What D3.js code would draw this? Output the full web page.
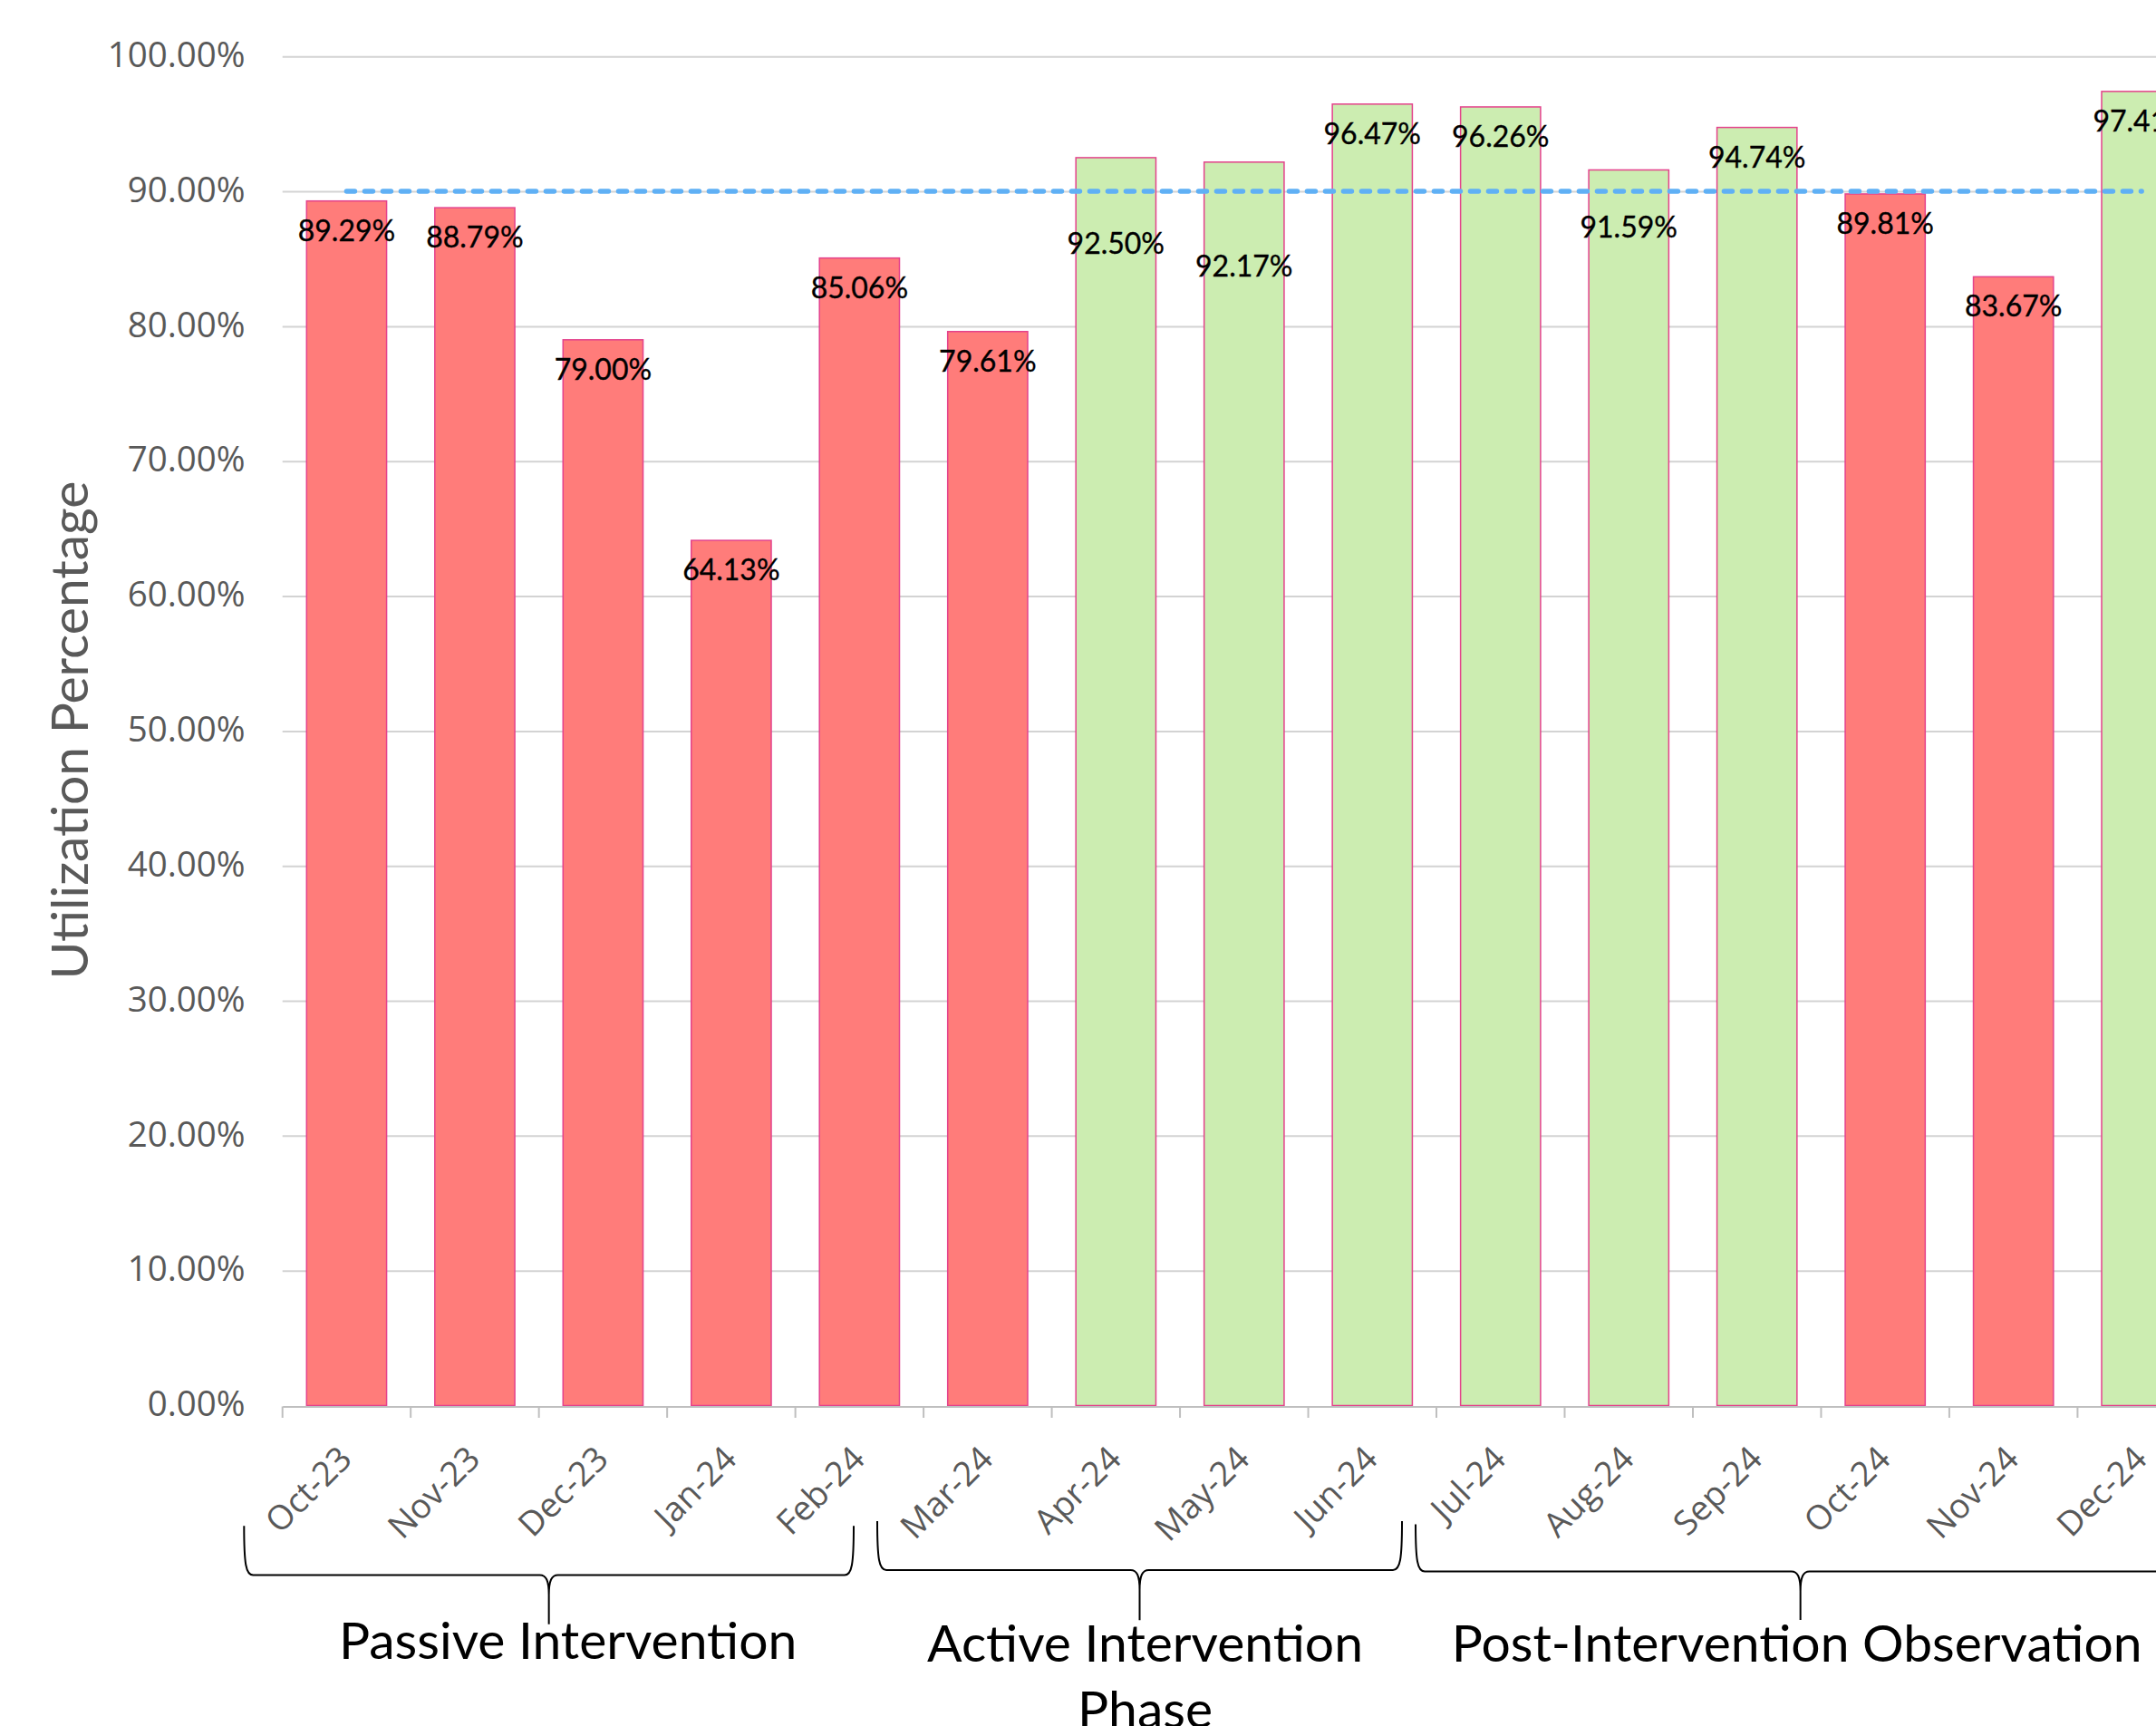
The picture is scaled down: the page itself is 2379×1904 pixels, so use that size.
<!DOCTYPE html>
<html>
<head>
<meta charset="utf-8">
<script src="https://cdn.jsdelivr.net/npm/d3@7"></script>
<style>
  html, body { margin: 0; padding: 0; background: #ffffff; }
  svg { display: block; }
</style>
</head>
<body>
<svg id="chart" width="2379" height="1904"></svg>
<script>
// ---- data ----
const months = ["Oct-23", "Nov-23", "Dec-23", "Jan-24", "Feb-24", "Mar-24", "Apr-24",
                "May-24", "Jun-24", "Jul-24", "Aug-24", "Sep-24", "Oct-24", "Nov-24", "Dec-24"];
const utilization = [0.8929, 0.8879, 0.7900, 0.6413, 0.8506, 0.7961, 0.9250,
                     0.9217, 0.9647, 0.9626, 0.9159, 0.9474, 0.8981, 0.8367, 0.9741];
const target = 0.90;
const yTicks = [0, 0.1, 0.2, 0.3, 0.4, 0.5, 0.6, 0.7, 0.8, 0.9, 1.0];
const phaseNames = ["Passive Intervention", "Active Intervention Phase", "Post-Intervention Observation"];
const phaseFirst = ["Oct-23", "Mar-24", "Jul-24"];
const phaseLast  = ["Feb-24", "Jun-24", "Dec-24"];

// ---- layout ----
const W = 2379, H = 1904;
const plotLeft = 311.7, step = 141.48;
const yTop = 62.3, yBottom = 1550.5;
const barRatio = 0.624;

const colors = {
  below: "#FF7C7A",
  above: "#CCEDB1",
  barEdge: "#E4428C",
  target: "#5FB0F5",
  grid: "#D3D3D3",
  axis: "#BFBFBF",
  axisText: "#595959",
  text: "#000000"
};

// extra downward shift for a few value labels so they clear the target line
const labelShift = { "Apr-24": 62, "May-24": 82, "Aug-24": 31 };

// brace geometry per phase (offsets from the phase's band edges, vertical levels)
const braceLayout = [
  { dx0: -42.4, dx1: -77.1, top: 1683.3, mid: 1737.5, tip: 1791.7, textDx: 21,  baseline: 1829.5, wrap: 700 },
  { dx0: -51.1, dx1: -38.0, top: 1678.0, mid: 1732.0, tip: 1787.3, textDx: 6,   baseline: 1833,   wrap: 520 },
  { dx0: -23.0, dx1: -22.6, top: 1681.5, mid: 1733.5, tip: 1787.0, textDx: -4,  baseline: 1833,   wrap: 900 }
];

const svg = d3.select("#chart");

const x = d3.scaleBand()
  .domain(months)
  .range([plotLeft, plotLeft + step * months.length])
  .paddingInner(0)
  .paddingOuter(0);
const bw = x.bandwidth();
const barW = bw * barRatio;

const y = d3.scaleLinear().domain([0, 1]).range([yBottom, yTop]);

// ---- y axis with gridlines ----
const gy = svg.append("g")
  .attr("transform", `translate(${plotLeft},0)`)
  .call(d3.axisLeft(y)
    .tickValues(yTicks)
    .tickFormat(d3.format(".2%"))
    .tickSize(-(W - plotLeft))
    .tickPadding(41));
gy.select(".domain").remove();
gy.selectAll(".tick line")
  .attr("stroke", colors.grid)
  .attr("stroke-width", 2)
  .attr("opacity", d => d === 0 ? 0 : 1);
gy.selectAll(".tick text")
  .attr("fill", colors.axisText)
  .attr("font-family", "'Open Sans', sans-serif")
  .attr("font-size", 38.5)
  .attr("dy", "0.29em");

// axis title
svg.append("text")
  .attr("transform", `translate(97,${(534 + 1077) / 2}) rotate(-90)`)
  .attr("text-anchor", "middle")
  .attr("fill", colors.axisText)
  .attr("font-family", "Lato, sans-serif")
  .attr("font-size", 57)
  .text("Utilization Percentage");

// ---- bars ----
svg.append("g").selectAll("rect")
  .data(months.map((m, i) => ({ m, v: utilization[i] })))
  .join("rect")
  .attr("x", d => x(d.m) + (bw - barW) / 2)
  .attr("y", d => y(d.v))
  .attr("width", barW)
  .attr("height", d => y(0) - y(d.v))
  .attr("fill", d => d.v >= target ? colors.above : colors.below)
  .attr("stroke", colors.barEdge)
  .attr("stroke-width", 1.5);

// ---- x axis ----
const axisY = y(0) + 1;
const gx = svg.append("g")
  .attr("transform", `translate(0,${axisY})`)
  .call(d3.axisBottom(x).tickSize(0).tickSizeOuter(0).tickPadding(0));
gx.select(".domain").attr("stroke", colors.axis).attr("stroke-width", 2);
gx.selectAll(".tick text")
  .attr("y", 0)
  .attr("dy", 0)
  .attr("text-anchor", "end")
  .attr("transform", "translate(8,60) rotate(-45)")
  .attr("fill", colors.axisText)
  .attr("font-family", "'Open Sans', sans-serif")
  .attr("font-size", 37.5);

// tick marks between categories
const boundaries = months.map(m => x(m)).concat([x(months[months.length - 1]) + bw]);
svg.append("g").selectAll("line")
  .data(boundaries)
  .join("line")
  .attr("x1", d => d).attr("x2", d => d)
  .attr("y1", axisY).attr("y2", axisY + 12.5)
  .attr("stroke", colors.axis)
  .attr("stroke-width", 2);

// ---- target line ----
const targetLine = d3.line()
  .x(m => x(m) + bw / 2)
  .y(() => y(target));
svg.append("path")
  .attr("d", targetLine(months))
  .attr("fill", "none")
  .attr("stroke", colors.target)
  .attr("stroke-width", 5.5)
  .attr("stroke-linecap", "round")
  .attr("stroke-dasharray", "9 11");

// ---- value labels ----
svg.append("g").selectAll("text")
  .data(months.map((m, i) => ({ m, v: utilization[i] })))
  .join("text")
  .attr("x", d => x(d.m) + bw / 2)
  .attr("y", d => y(d.v) + 44 + (labelShift[d.m] || 0))
  .attr("text-anchor", "middle")
  .attr("fill", colors.text)
  .attr("font-family", "Lato, sans-serif")
  .attr("font-size", 32)
  .attr("stroke", colors.text)
  .attr("stroke-width", 0.35)
  .text(d => d3.format(".2%")(d.v));

// ---- phase braces ----
function bracePath(x0, x1, top, mid, tip) {
  const xc = (x0 + x1) / 2;
  return `M${x0},${top} C${x0},${mid - 12} ${x0 + 2},${mid} ${x0 + 10},${mid}` +
         ` L${xc - 10},${mid} C${xc - 3},${mid} ${xc},${mid + 6} ${xc},${mid + 22} L${xc},${tip}` +
         ` M${xc},${mid + 22} C${xc},${mid + 6} ${xc + 3},${mid} ${xc + 10},${mid}` +
         ` L${x1 - 10},${mid} C${x1 - 2},${mid} ${x1},${mid - 12} ${x1},${top}`;
}

const phases = svg.append("g");
phaseNames.forEach((name, i) => {
  const L = braceLayout[i];
  const x0 = x(phaseFirst[i]) + L.dx0;
  const x1 = x(phaseLast[i]) + bw + L.dx1;
  phases.append("path")
    .attr("d", bracePath(x0, x1, L.top, L.mid, L.tip))
    .attr("fill", "none")
    .attr("stroke", "#000")
    .attr("stroke-width", 2);

  const cx = (x0 + x1) / 2 + L.textDx;
  const t = phases.append("text")
    .attr("text-anchor", "middle")
    .attr("fill", colors.text)
    .attr("font-family", "Lato, sans-serif")
    .attr("font-size", 57);
  // simple word wrap inside the phase's text box
  const words = name.split(" ");
  let line = [], lineNo = 0;
  let tspan = t.append("tspan").attr("x", cx).attr("y", L.baseline);
  words.forEach(w => {
    line.push(w);
    tspan.text(line.join(" "));
    if (tspan.node().getComputedTextLength() > L.wrap && line.length > 1) {
      line.pop();
      tspan.text(line.join(" "));
      line = [w];
      lineNo++;
      tspan = t.append("tspan").attr("x", cx).attr("y", L.baseline + lineNo * 73).text(w);
    }
  });
});
</script>
</body>
</html>
